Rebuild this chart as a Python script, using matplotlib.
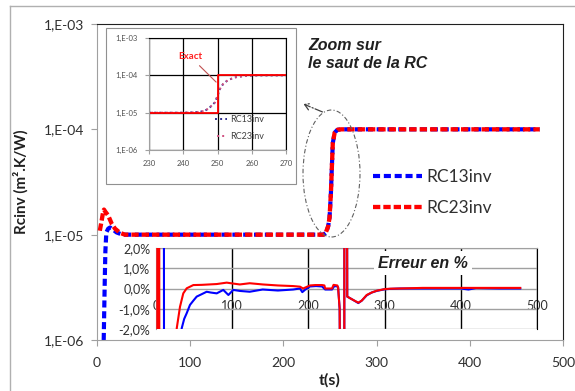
import matplotlib
matplotlib.use('Agg')
import matplotlib.pyplot as plt
from matplotlib.patches import Rectangle, Ellipse, FancyArrowPatch
from matplotlib.lines import Line2D
from matplotlib.ticker import NullLocator

plt.rcParams['font.family'] = ['Lato', 'DejaVu Sans']

# ---------------- data ----------------
# main chart
t13 = [7.2, 7.8, 8.4, 9.0, 10, 12, 14, 17, 21, 26, 30, 100, 200, 243, 246, 248, 249.5,
       251, 252, 253, 255, 258, 262, 300, 400, 475]
rc13 = [1e-6, 2e-6, 4e-6, 7e-6, 1.05e-5, 1.14e-5, 1.17e-5, 1.12e-5, 1.05e-5, 1.01e-5, 1e-5,
        1e-5, 1e-5, 1e-5, 1.05e-5, 1.2e-5, 1.45e-5, 2.5e-5, 4.4e-5, 7.4e-5, 9.3e-5,
        9.9e-5, 1e-4, 1e-4, 1e-4, 1e-4]
t23 = [3, 5, 6.8, 7.5, 9, 12, 15.8, 19.3, 24.7, 30, 100, 200, 243, 245, 248, 249.5, 251,
       252, 253, 255, 258, 262, 300, 400, 475]
rc23 = [1.09e-5, 1.36e-5, 1.69e-5, 1.73e-5, 1.65e-5, 1.52e-5, 1.27e-5, 1.14e-5, 1.04e-5,
        1e-5, 1e-5, 1e-5, 1e-5, 1.02e-5, 1.2e-5, 1.45e-5, 2.5e-5, 4.4e-5, 7.4e-5, 9.3e-5,
        9.9e-5, 1e-4, 1e-4, 1e-4, 1e-4]
main_xticks = [0, 100, 200, 300, 400, 500]
main_yticks = [1e-6, 1e-5, 1e-4, 1e-3]
main_ytick_labels = ['1,E-06', '1,E-05', '1,E-04', '1,E-03']

# zoom inset
zoom_t = [230, 240, 243, 245, 246.4, 247.8, 249.3, 250.1, 250.7, 251.6, 253, 255, 258, 262, 270]
zoom_rc13 = [1e-5, 1e-5, 1.02e-5, 1.06e-5, 1.13e-5, 1.4e-5, 1.9e-5, 3e-5, 4.3e-5, 5.8e-5,
             7.4e-5, 8.8e-5, 9.7e-5, 1e-4, 1e-4]
zoom_rc23 = [1e-5, 1e-5, 1.02e-5, 1.06e-5, 1.13e-5, 1.4e-5, 1.9e-5, 3e-5, 4.3e-5, 5.8e-5,
             7.4e-5, 8.8e-5, 9.7e-5, 1e-4, 1e-4]
exact_t = [230, 250, 250, 270]
exact_rc = [1e-5, 1e-5, 1e-4, 1e-4]
zoom_xticks = [230, 240, 250, 260, 270]
zoom_yticks = [1e-6, 1e-5, 1e-4, 1e-3]
zoom_ytick_labels = ['1,E-06', '1,E-05', '1,E-04', '1,E-03']

# error inset (%)
err13_t = [10.3, 10.6, 33, 33.7, 37, 40.3, 44.6, 49, 53.4, 60, 66.5, 72, 79.7, 88.3, 95,
           101.4, 110, 123, 140, 160, 180, 189, 192, 196, 202, 210, 218, 222, 231, 234,
           238, 239, 241, 242.5, 247, 247.3, 250.4, 251, 258, 265.5, 270, 276.5, 283,
           289.6, 300, 307, 320, 350, 400, 410, 420, 450, 478]
err13 = [10, -10, -10, -1.97, -1.5, -1.22, -0.81, -0.6, -0.40, -0.28, -0.16, -0.2, -0.24,
         -0.07, -0.32, -0.07, -0.12, -0.16, -0.05, -0.1, -0.05, 0.0, -0.18, -0.05, 0.1,
         0.12, 0.1, -0.05, -0.05, 0.12, 0.1, 0.05, -1.0, -10, -10, 10, 10, -0.4, -0.55,
         -0.72, -0.6, -0.34, -0.2, -0.12, -0.04, -0.02, 0.0, 0.0, 0.0, -0.05, 0.02, 0.0, 0.0]
err23_t = [1.7, 1.8, 4.2, 4.4, 26.5, 27.2, 31.5, 35.8, 40.3, 49, 60, 79.7, 92.8, 100, 110,
           123, 140, 160, 180, 189, 193, 196, 202, 209, 218, 221, 222, 231, 233, 238, 239,
           241, 242.5, 247, 247.3, 250.4, 251, 258, 265.5, 270, 276.5, 283, 289.6, 300,
           307, 320, 350, 400, 450, 478]
err23 = [-10, 10, 10, -10, -10, -1.97, -0.9, -0.24, 0.01, 0.17, 0.18, 0.22, 0.29, 0.25,
         0.2, 0.26, 0.2, 0.15, 0.12, 0.09, 0.0, 0.05, 0.15, 0.17, 0.17, 0.15, 0.0, 0.0,
         0.18, 0.15, 0.05, -1.0, -10, -10, 10, 10, -0.4, -0.55, -0.7, -0.6, -0.32, -0.2,
         -0.11, -0.03, -0.01, 0.0, 0.03, 0.03, 0.03, 0.03]
err_xticks = [0, 100, 200, 300, 400, 500]
err_yticks = [-2, -1, 0, 1, 2]
err_ytick_labels = ['-2,0%', '-1,0%', '0,0%', '1,0%', '2,0%']

# ---------------- layout helpers ----------------
W, H = 575, 391
fig = plt.figure(figsize=(5.75, 3.91), dpi=100)
fig.patch.set_facecolor('white')


def fx(px):
    return px / W


def fy(py):
    return 1 - py / H


GREY = '#a0a0a0'
TXT = '#303030'

# ---------------- main axes ----------------
ax = fig.add_axes([fx(97), fy(340), fx(563) - fx(97), fy(24) - fy(340)])
ax.plot(t13, rc13, color='#0000ff', lw=3, dashes=(1.7, 0.9), label='RC13inv', zorder=2)
ax.plot(t23, rc23, color='#ff0000', lw=3.1, dashes=(1.7, 0.7), label='RC23inv', zorder=3)
ax.set_yscale('log')
ax.set_ylim(1e-6, 1e-3)
ax.set_xlim(0, 500)
ax.set_xticks(main_xticks)
ax.set_yticks(main_yticks)
ax.set_yticklabels(main_ytick_labels)
ax.yaxis.set_minor_locator(NullLocator())
ax.tick_params(axis='both', direction='out', length=4, color=GREY, labelsize=10,
               labelcolor=TXT)
ax.tick_params(axis='y', pad=5)
ax.tick_params(axis='x', pad=8)
for s in ['left', 'bottom']:
    ax.spines[s].set_color(GREY)
for s in ['top', 'right']:
    ax.spines[s].set_color('#202020')
ax.set_ylabel('Rcinv (m².K/W)', fontweight='bold', fontsize=11, color='#202020')
ax.yaxis.set_label_coords(-0.146, 0.5)
ax.set_xlabel('t(s)', fontweight='bold', fontsize=11.5, color='#202020')
ax.xaxis.label.set_va('center')
ax.xaxis.set_label_coords(0.5, (340 - 380) / 316)

ax.legend(loc='upper left', bbox_to_anchor=(fx(373), fy(169)),
          bbox_transform=fig.transFigure, frameon=False, fontsize=12.5,
          handlelength=2.8, handletextpad=0.25, labelspacing=0.85, borderpad=0,
          borderaxespad=0, labelcolor=TXT)

# ---------------- zoom inset ----------------
frame = Rectangle((fx(106), fy(184)), fx(296) - fx(106), fy(28) - fy(184),
                  transform=fig.transFigure, facecolor='white', edgecolor='#909090',
                  lw=0.8, zorder=2)
fig.add_artist(frame)

ax1 = fig.add_axes([fx(149), fy(150), fx(286) - fx(149), fy(38) - fy(150)], zorder=3)
ax1.plot(zoom_t, zoom_rc13, color='#303090', ls=':', lw=1.4, label='RC13inv')
ax1.plot(zoom_t, zoom_rc23, color='#d05080', ls=(1.5, (1, 1.6)), lw=1.4, label='RC23inv')
ax1.plot(exact_t, exact_rc, color='#ff0000', lw=1.3)
ax1.set_yscale('log')
ax1.set_ylim(1e-6, 1e-3)
ax1.set_xlim(230, 270)
ax1.set_xticks(zoom_xticks)
ax1.set_yticks(zoom_yticks)
ax1.set_yticklabels(zoom_ytick_labels)
ax1.yaxis.set_minor_locator(NullLocator())
ax1.grid(True, color='black', lw=0.9)
ax1.set_axisbelow(True)
ax1.tick_params(axis='both', direction='out', length=3, color=GREY, labelsize=5.5,
                labelcolor='#505050')
ax1.tick_params(axis='y', pad=5)
ax1.tick_params(axis='x', pad=4)
for s in ['left', 'bottom']:
    ax1.spines[s].set_color(GREY)
for s in ['top', 'right']:
    ax1.spines[s].set_color('black')
ax1.legend(loc='upper left', bbox_to_anchor=(0.48, 0.31), frameon=False, fontsize=6.5,
           handlelength=1.4, handletextpad=0.3, labelspacing=0.9, borderpad=0,
           borderaxespad=0, labelcolor='#404040')
ax1.annotate('Exact', xy=(249.6, 6.6e-5), xytext=(242, 3.2e-4), color='#ff2020',
             fontsize=7, fontweight='bold', ha='center', va='center',
             arrowprops=dict(arrowstyle='-', color='#c05050', lw=0.8, shrinkA=2, shrinkB=0))

# ---------------- error inset ----------------
ax2 = fig.add_axes([fx(156), fy(329), fx(537) - fx(156), fy(248) - fy(329)], zorder=3)
ax2.set_facecolor('white')
ax2.plot(err13_t, err13, color='#0000ff', lw=1.5, zorder=3)
ax2.plot(err23_t, err23, color='#ff0000', lw=1.5, zorder=4)
ax2.set_xlim(0, 500)
ax2.set_ylim(-2, 2)
ax2.set_xticks(err_xticks)
ax2.set_yticks(err_yticks)
ax2.set_yticklabels(err_ytick_labels)
ax2.yaxis.grid(True, color=GREY, lw=1)
ax2.xaxis.grid(True, color='black', lw=1)
ax2.get_xaxis().get_major_ticks()[0].gridline.set_color(GREY)
ax2.spines['bottom'].set_position(('data', -1))
ax2.spines['bottom'].set_visible(False)
ax2.spines['left'].set_color(GREY)
ax2.spines['top'].set_color(GREY)
ax2.spines['right'].set_color('black')
ax2.tick_params(axis='x', length=0, pad=-6.5, labelsize=9, labelcolor=TXT)
ax2.tick_params(axis='y', length=0, pad=4, labelsize=9, labelcolor=TXT)

fig.text(fx(423), fy(263), 'Erreur en %', ha='center', va='center', fontsize=11.5,
         fontweight='bold', style='italic', family='Liberation Sans', color='#202020',
         bbox=dict(facecolor='white', edgecolor='none', pad=3), zorder=6)

# ---------------- annotations ----------------
fig.text(fx(308), fy(46), 'Zoom sur', ha='left', va='center', fontsize=11.5,
         fontweight='bold', style='italic', family='Liberation Sans', color='#202020')
fig.text(fx(308), fy(63), 'le saut de la RC', ha='left', va='center', fontsize=11.5,
         fontweight='bold', style='italic', family='Liberation Sans', color='#202020')

ell = Ellipse((fx(331.5), fy(173.5)), 57 / W, 127 / H, transform=fig.transFigure,
              fill=False, edgecolor='#606060', lw=0.8, ls=(0, (4, 2, 1, 2)), zorder=4)
fig.add_artist(ell)
arr = FancyArrowPatch(posA=(fx(325), fy(113)), posB=(fx(301), fy(103)),
                      transform=fig.transFigure, arrowstyle='->,head_length=4,head_width=2.5',
                      linestyle='-.', color='#404040', lw=0.9, zorder=4)
fig.add_artist(arr)

# figure border
fig.add_artist(Line2D([fx(10), fx(10)], [fy(6), 0], transform=fig.transFigure,
                      color='#b0b0b0', lw=1))
fig.add_artist(Line2D([fx(10), 1], [fy(6), fy(6)], transform=fig.transFigure,
                      color='#b0b0b0', lw=1))

fig.savefig('out.png', dpi=100, facecolor='white')
